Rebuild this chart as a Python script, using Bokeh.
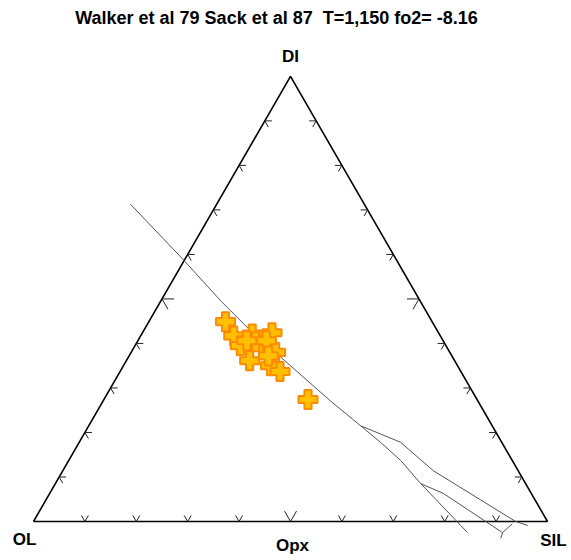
import math
from bokeh.plotting import figure
from bokeh.models import Range1d, Label
from bokeh.embed import file_html
from bokeh.resources import INLINE

# ---- data (ternary percentages) ----
title_text = "Walker et al 79 Sack et al 87\u00a0 T=1,150 fo2= -8.16"
apex_labels = ["DI", "OL", "Opx", "SIL"]

pt_sil = [14.9, 18.1, 21.5, 25.2, 20.5, 24.8, 24.0, 28.1, 28.6, 31.1, 39.7, 23.0, 25.0, 21.2, 27.1]
pt_di = [44.9, 41.7, 42.1, 42.4, 39.5, 39.5, 36.1, 38.0, 35.0, 33.7, 27.4, 40.4, 40.6, 40.6, 37.2]

# cotectic / boundary curves (SIL%, DI%)
main_sil = [-16.8, -0.5, 11.6, 20.2, 44.2, 52.9]
main_di = [71.3, 59.0, 49.6, 43.3, 27.1, 21.5]
upper_sil = [52.9, 62.5, 72.1, 93.8, 96.6]
upper_di = [21.5, 17.8, 11.4, 0.0, -0.9]
lower_sil = [52.9, 58.6, 64.6, 71.1, 85.7]
lower_di = [21.5, 17.8, 13.7, 8.5, -2.5]
branch_sil = [71.1, 76.6, 92.5, 93.4]
branch_di = [8.5, 6.3, -2.5, -0.5]
stub_sil = [92.5, 92.8]
stub_di = [-2.5, -3.8]

tick_vals = [10, 20, 30, 40, 50, 60, 70, 80, 90]

H = math.sqrt(3) / 2


def cart(sil, di):
    return [s + d / 2 for s, d in zip(sil, di)], [d * H for d in di]


p = figure(width=571, height=560, output_backend="svg", toolbar_location=None,
           x_range=Range1d(-6.420, 104.669), y_range=Range1d(-7.588, 101.362),
           min_border=0, outline_line_color=None)
p.axis.visible = False
p.grid.visible = False
p.background_fill_color = "white"

# triangle
p.line([0, 100, 50, 0], [0, 0, 100 * H, 0], line_color="black", line_width=1.6)

# ticks
px_unit = 5.14
xs0, ys0, xs1, ys1 = [], [], [], []
for t in tick_vals:
    L = (12 if t == 50 else 7) / px_unit
    # bottom edge
    bx, by = t, 0.0
    for a in (60, 120):
        xs0.append(bx); ys0.append(by)
        xs1.append(bx + L * math.cos(math.radians(a))); ys1.append(by + L * math.sin(math.radians(a)))
    # left edge
    lx, ly = t / 2, t * H
    for a in (0, -60):
        xs0.append(lx); ys0.append(ly)
        xs1.append(lx + L * math.cos(math.radians(a))); ys1.append(ly + L * math.sin(math.radians(a)))
    # right edge
    rx, ry = 100 - t / 2, t * H
    for a in (180, 240):
        xs0.append(rx); ys0.append(ry)
        xs1.append(rx + L * math.cos(math.radians(a))); ys1.append(ry + L * math.sin(math.radians(a)))
p.segment(xs0, ys0, xs1, ys1, line_color="#222222", line_width=1)

# curves
for s, d in [(main_sil, main_di), (upper_sil, upper_di), (lower_sil, lower_di),
             (branch_sil, branch_di), (stub_sil, stub_di)]:
    cx, cy = cart(s, d)
    p.line(cx, cy, line_color="#555555", line_width=1)

# points
mx, my = cart(pt_sil, pt_di)
p.scatter(mx, my, marker="plus", size=19, fill_color="#FFC000",
          line_color="#FF8A00", line_width=2)

# labels
font = "Liberation Sans"
p.add_layout(Label(x=276, y=543, x_units="screen", y_units="screen", text=title_text,
                   text_font=font, text_font_size="18px", text_font_style="bold",
                   text_color="black", text_align="center", text_baseline="middle"))
label_pos = [(50, 100 * H, 0, 20), (0, 0, -9, -18), (50, 0, 2, -24), (100, 0, 6, -19)]
for txt, (lx, ly, dx, dy) in zip(apex_labels, label_pos):
    p.add_layout(Label(x=lx, y=ly, x_offset=dx, y_offset=dy, text=txt, text_font=font,
                       text_font_size="17px", text_font_style="bold", text_color="black",
                       text_align="center", text_baseline="middle"))

open("out.html", "w").write(file_html(p, INLINE))
